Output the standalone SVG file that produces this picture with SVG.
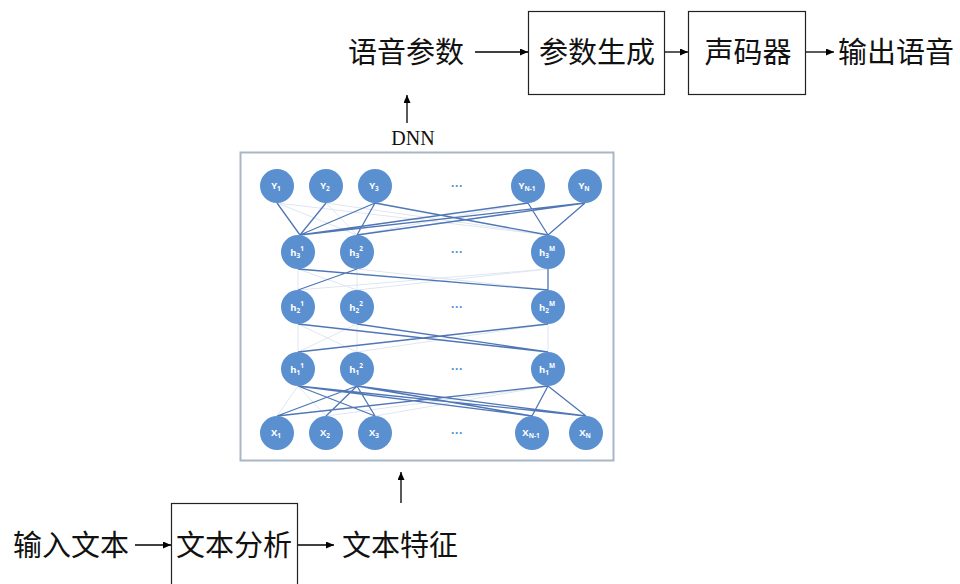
<svg xmlns="http://www.w3.org/2000/svg" width="960" height="584" viewBox="0 0 960 584">
<style>
.cn{font-family:"Liberation Serif","Noto Sans CJK SC",serif;font-size:29px;fill:#111}
.box{fill:#fff;stroke:#222;stroke-width:1.2}
.arr{stroke:#000;stroke-width:1.3;fill:none;marker-end:url(#ah)}
.nd{fill:#5a8fd0}
.lbl{font-family:"Open Sans","Liberation Sans",sans-serif;font-size:9.5px;font-weight:bold;fill:#fff;text-anchor:middle}
.sb{font-size:6.5px}
.dots{font-family:"Liberation Sans",sans-serif;font-size:12px;fill:#5a8fd0;text-anchor:middle;font-weight:bold}
.dk{stroke:#4f76b6;stroke-width:1.3;fill:none}
.ft{stroke:#dfe6f1;stroke-width:1;fill:none}
</style>
<defs>
<marker id="ah" viewBox="0 0 8 7" refX="8" refY="3.5" markerWidth="8" markerHeight="7" markerUnits="userSpaceOnUse" orient="auto">
<path d="M0,0 L8,3.5 L0,7 z" fill="#000"/>
</marker>
</defs>
<rect width="960" height="584" fill="#fff"/>

<g id="n-yuyincanshu"><text class="cn" x="348" y="63">语音参数</text></g>
<g id="n-canshushengcheng"><rect class="box" x="528.5" y="11.5" width="136" height="83"/><text class="cn" x="597" y="63" text-anchor="middle">参数生成</text></g>
<g id="n-shengmaqi"><rect class="box" x="688.5" y="11.5" width="117" height="83"/><text class="cn" x="748" y="63" text-anchor="middle">声码器</text></g>
<g id="n-shuchuyuyin"><text class="cn" x="838" y="63">输出语音</text></g>
<g id="n-dnnlabel"><text x="413" y="145" text-anchor="middle" style="font-family:'Liberation Serif',serif;font-size:20px;fill:#111">DNN</text></g>

<g id="n-dnn">
<rect x="240.5" y="152.5" width="373" height="308" fill="#fff" stroke="#a9b6c6" stroke-width="2"/>
<g id="faint">
<path class="ft" d="M277,203L357,235M277,203L548,235M326,203L357,235M326,203L548,235M528,203L357,235M585,203L357,235"/>
<path class="ft" d="M298,269L298,290M298,269L357,290M357,269L357,290M357,269L548,290M548,269L298,290M548,269L357,290"/>
<path class="ft" d="M298,324L298,352M298,324L357,352M357,324L298,352M357,324L357,352M548,324L357,352M548,324L548,352"/>
<path class="ft" d="M298,386L277,416M298,386L326,416M357,386L532,416M548,386L326,416M548,386L375,416"/>
</g>
<g id="conn-net">
<path class="dk" d="M277,203L300,235M326,203L300,235M375,203L300,235M375,203L357,235M375,203L548,235M528,203L300,235M528,203L548,235M585,203L300,235M585,203L357,235M585,203L548,235"/>
<path class="dk" d="M298,269L548,290M357,269L298,290M548,269L548,290"/>
<path class="dk" d="M298,324L548,352M357,324L548,352M548,324L298,352"/>
<path class="dk" d="M298,386L375,416M298,386L532,416M298,386L586,416M357,386L277,416M357,386L326,416M357,386L375,416M357,386L532,416M357,386L586,416M548,386L277,416M548,386L532,416M548,386L586,416"/>
</g>
<g id="n-y1"><circle class="nd" cx="277" cy="186" r="17"/><text class="lbl" x="276" y="189">Y<tspan class="sb" dy="2">1</tspan></text></g>
<g id="n-y2"><circle class="nd" cx="326" cy="186" r="17"/><text class="lbl" x="325" y="189">Y<tspan class="sb" dy="2">2</tspan></text></g>
<g id="n-y3"><circle class="nd" cx="375" cy="186" r="17"/><text class="lbl" x="374" y="189">Y<tspan class="sb" dy="2">3</tspan></text></g>
<text class="dots" x="457" y="190">···</text>
<g id="n-yn1"><circle class="nd" cx="528" cy="186" r="17"/><text class="lbl" x="527" y="189">Y<tspan class="sb" dy="2">N-1</tspan></text></g>
<g id="n-yn"><circle class="nd" cx="585" cy="186" r="17"/><text class="lbl" x="584" y="189">Y<tspan class="sb" dy="2">N</tspan></text></g>

<g id="n-h31"><circle class="nd" cx="298" cy="252" r="17"/><text class="lbl" x="297" y="256">h<tspan class="sb" dy="2">3</tspan><tspan class="sb" dy="-7">1</tspan></text></g>
<g id="n-h32"><circle class="nd" cx="357" cy="252" r="17"/><text class="lbl" x="356" y="256">h<tspan class="sb" dy="2">3</tspan><tspan class="sb" dy="-7">2</tspan></text></g>
<text class="dots" x="457" y="256">···</text>
<g id="n-h3m"><circle class="nd" cx="548" cy="252" r="17"/><text class="lbl" x="547" y="256">h<tspan class="sb" dy="2">3</tspan><tspan class="sb" dy="-7">M</tspan></text></g>

<g id="n-h21"><circle class="nd" cx="298" cy="307" r="17"/><text class="lbl" x="297" y="311">h<tspan class="sb" dy="2">2</tspan><tspan class="sb" dy="-7">1</tspan></text></g>
<g id="n-h22"><circle class="nd" cx="357" cy="307" r="17"/><text class="lbl" x="356" y="311">h<tspan class="sb" dy="2">2</tspan><tspan class="sb" dy="-7">2</tspan></text></g>
<text class="dots" x="457" y="311">···</text>
<g id="n-h2m"><circle class="nd" cx="548" cy="307" r="17"/><text class="lbl" x="547" y="311">h<tspan class="sb" dy="2">2</tspan><tspan class="sb" dy="-7">M</tspan></text></g>

<g id="n-h11"><circle class="nd" cx="298" cy="369" r="17"/><text class="lbl" x="297" y="373">h<tspan class="sb" dy="2">1</tspan><tspan class="sb" dy="-7">1</tspan></text></g>
<g id="n-h12"><circle class="nd" cx="357" cy="369" r="17"/><text class="lbl" x="356" y="373">h<tspan class="sb" dy="2">1</tspan><tspan class="sb" dy="-7">2</tspan></text></g>
<text class="dots" x="457" y="373">···</text>
<g id="n-h1m"><circle class="nd" cx="548" cy="369" r="17"/><text class="lbl" x="547" y="373">h<tspan class="sb" dy="2">1</tspan><tspan class="sb" dy="-7">M</tspan></text></g>

<g id="n-x1"><circle class="nd" cx="277" cy="433" r="17"/><text class="lbl" x="276" y="436">X<tspan class="sb" dy="2">1</tspan></text></g>
<g id="n-x2"><circle class="nd" cx="326" cy="433" r="17"/><text class="lbl" x="325" y="436">X<tspan class="sb" dy="2">2</tspan></text></g>
<g id="n-x3"><circle class="nd" cx="375" cy="433" r="17"/><text class="lbl" x="374" y="436">X<tspan class="sb" dy="2">3</tspan></text></g>
<text class="dots" x="457" y="437">···</text>
<g id="n-xn1"><circle class="nd" cx="532" cy="433" r="17"/><text class="lbl" x="531" y="436">X<tspan class="sb" dy="2">N-1</tspan></text></g>
<g id="n-xn"><circle class="nd" cx="586" cy="433" r="17"/><text class="lbl" x="585" y="436">X<tspan class="sb" dy="2">N</tspan></text></g>
</g>

<g id="n-shurwenben"><text class="cn" x="13" y="556">输入文本</text></g>
<g id="n-wenbenfenxi"><rect class="box" x="171.5" y="503.5" width="126" height="95"/><text class="cn" x="234" y="556" text-anchor="middle">文本分析</text></g>
<g id="n-wenbentezheng"><text class="cn" x="342" y="556">文本特征</text></g>

<g id="connectors">
<line class="arr" x1="475" y1="52" x2="528" y2="52"/>
<line class="arr" x1="665" y1="52" x2="688" y2="52"/>
<line class="arr" x1="806" y1="52" x2="834" y2="52"/>
<line class="arr" x1="407" y1="123" x2="407" y2="95"/>
<line class="arr" x1="401" y1="503" x2="401" y2="472"/>
<line class="arr" x1="135" y1="545" x2="171" y2="545"/>
<line class="arr" x1="298" y1="545" x2="334" y2="545"/>
</g>
</svg>
